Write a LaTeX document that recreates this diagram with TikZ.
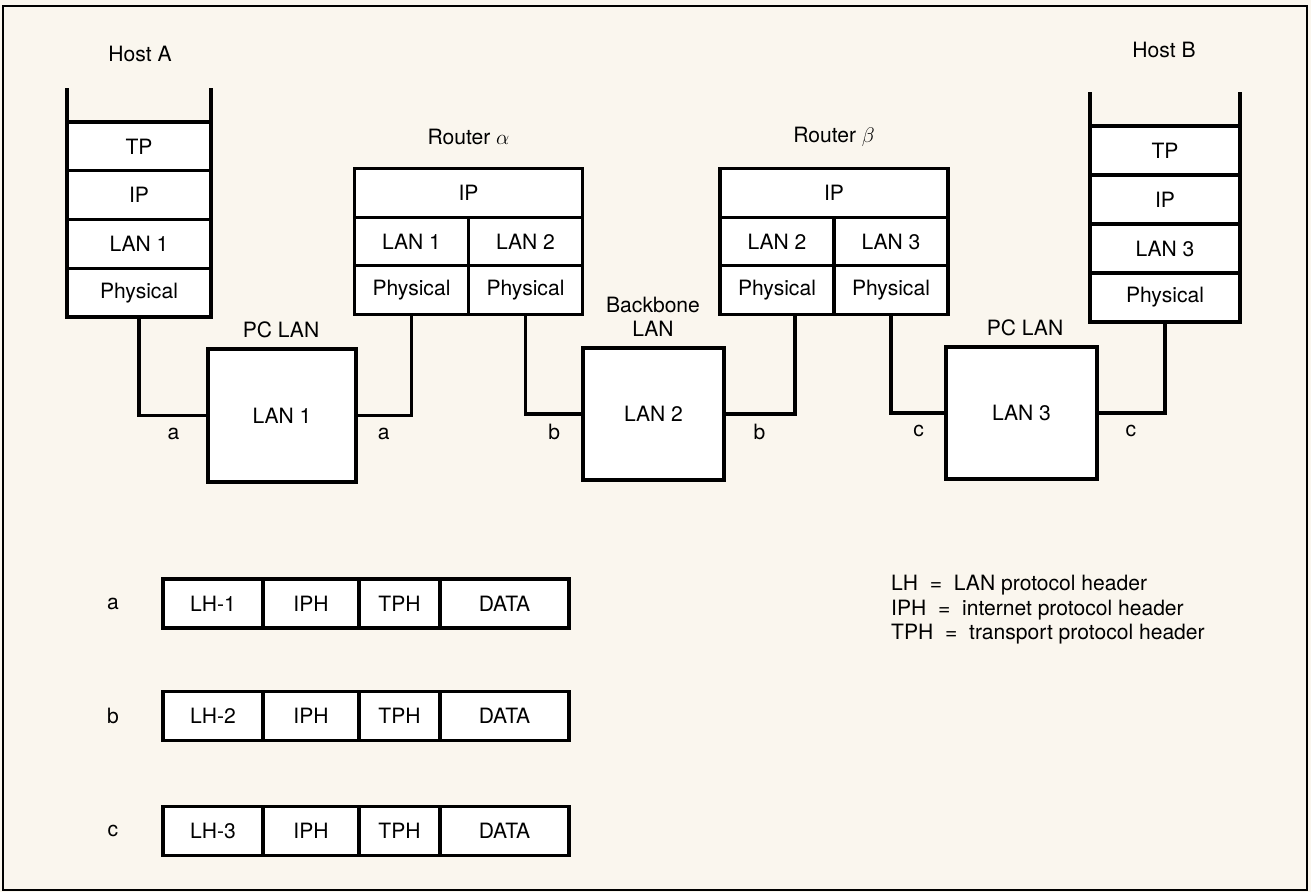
\documentclass[tikz,border=0pt]{standalone}
\usepackage{fontspec}
\setmainfont{TeX Gyre Heros}
\usepackage{tikz}
\usetikzlibrary{positioning}

\definecolor{paper}{RGB}{250,246,238}
\newcommand{\figsize}{\fontsize{12pt}{14pt}\selectfont}

\tikzset{
  layer/.style={draw, fill=white, line width=1.8pt, outer sep=0pt, inner sep=0pt,
    minimum height=0.975cm},
  lanbox/.style={draw, fill=white, line width=1.8pt, outer sep=0pt, inner sep=0pt},
  wire/.style={line width=1.8pt},
  linklabel/.style={yshift=-0.36cm}
}

\begin{document}
\begin{tikzpicture}[x=0.02cm, y=-0.02cm, every node/.style={font=\figsize}]
  % paper and frame
  \fill[paper] (0,0) rectangle (1311,892);
  \useasboundingbox (0,0) rectangle (1311,892);
  \draw[line width=1.1pt] (3,6) rectangle (1307,890);

  % Host A
  \node at (140,54) {Host A};
  \foreach \lbl/\nm [count=\i] in {TP/tp, IP/ip, LAN 1/lan, Physical/phy}
    \node[layer, minimum width=2.88cm] (hA\nm) at (139,{146.4+48.75*(\i-1)}) {\lbl};
  \draw[wire] (hAtp.north west) -- ++(0,-34);
  \draw[wire] (hAtp.north east) -- ++(0,-34);

  % Host B
  \node at (1164,50) {Host B};
  \foreach \lbl/\nm [count=\i] in {TP/tp, IP/ip, LAN 3/lan, Physical/phy}
    \node[layer, minimum width=3.0cm, minimum height=0.98cm] (hB\nm) at (1165,{150.5+49*(\i-1)}) {\lbl};
  \draw[wire] (hBtp.north west) -- ++(0,-34);
  \draw[wire] (hBtp.north east) -- ++(0,-34);

  % routers
  \foreach \r/\cx/\nl/\nr/\greek in {ra/468.5/1/2/\alpha, rb/834/2/3/\beta} {
    \node at (\cx,137) {Router $\greek$};
    \node[layer, minimum width=4.56cm, minimum height=0.974cm] (\r ip) at (\cx,192.85) {IP};
    \node[layer, minimum width=2.28cm, minimum height=0.974cm] (\r lanL) at (\cx-57,241.55) {LAN \nl};
    \node[layer, minimum width=2.28cm, minimum height=0.974cm] (\r lanR) at (\cx+57,241.55) {LAN \nr};
    \node[layer, minimum width=2.28cm, minimum height=0.974cm] (\r phyL) at (\cx-57,290.25) {Physical};
    \node[layer, minimum width=2.28cm, minimum height=0.974cm] (\r phyR) at (\cx+57,290.25) {Physical};
  }

  % the three LANs
  \node[lanbox, minimum width=2.96cm, minimum height=2.66cm] (lan1) at (282,415.5) {LAN 1};
  \node[lanbox, minimum width=2.82cm, minimum height=2.64cm] (lan2) at (653.5,414) {LAN 2};
  \node[lanbox, minimum width=3.02cm, minimum height=2.64cm] (lan3) at (1021.5,413) {LAN 3};
  \node at (281,330) {PC LAN};
  \node[align=center] at (653,317) {Backbone\\LAN};
  \node at (1025,328) {PC LAN};

  % links
  \draw[wire] (hAphy.south) |- node[pos=.75, linklabel] {a} (lan1.west);
  \draw[wire] (lan1.east) -| node[pos=.25, linklabel] {a} (raphyL.south);
  \draw[wire] (raphyR.south) |- node[pos=.75, linklabel] {b} (lan2.west);
  \draw[wire] (lan2.east) -| node[pos=.25, linklabel] {b} ([xshift=0.36cm]rbphyL.south);
  \draw[wire] (rbphyR.south) |- node[pos=.75, linklabel] {c} (lan3.west);
  \draw[wire] (lan3.east) -| node[pos=.25, linklabel] {c} (hBphy.south);

  % packets on each link
  \foreach \row/\y [count=\n] in {a/603.5, b/716, c/831} {
    \node at (113,\y) {\row};
    \foreach \fld/\cx/\w [count=\k] in {LH-\n/213/2.0, IPH/311/1.92, TPH/399.5/1.62, DATA/504.5/2.58}
      \node[layer, minimum width=\w cm, minimum height=0.98cm] (pkt\row\k) at (\cx,\y) {\fld};
  }

  % legend
  \node[anchor=west, align=left] (legend) at (885,610)
    {LH~ =~ LAN protocol header\\IPH~ =~ internet protocol header\\TPH~ =~ transport protocol header};
\end{tikzpicture}
\end{document}
